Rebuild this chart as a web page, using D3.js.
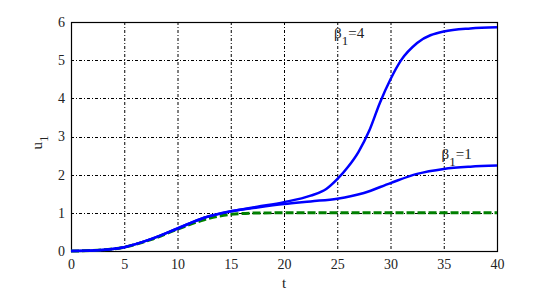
<!DOCTYPE html>
<html>
<head>
<meta charset="utf-8">
<script src="https://cdn.jsdelivr.net/npm/d3@7"></script>
<style>
    body { margin: 0; background: #fff; }
    text { font-family: "Liberation Serif", "Times New Roman", serif; fill: #222; }
</style>
</head>
<body>
<div id="chart"></div>
<script>
// values
let tBeta4 = [0, 2.5, 5, 7.5, 10, 12.5, 15, 17.5, 20, 22.5, 24, 25, 26, 27, 28, 29, 30, 31, 32.5, 35, 37.5, 40];
let uBeta4 = [0, 0.02, 0.1, 0.31, 0.59, 0.87, 1.04, 1.16, 1.28, 1.45, 1.63, 1.88, 2.2, 2.6, 3.15, 3.88, 4.5, 5.0, 5.45, 5.75, 5.83, 5.86];

let tBeta1 = [0, 2.5, 5, 7.5, 10, 12.5, 15, 17.5, 20, 22.5, 25, 27.5, 30, 32.5, 35, 37.5, 40];
let uBeta1 = [0, 0.02, 0.1, 0.31, 0.59, 0.87, 1.04, 1.14, 1.23, 1.3, 1.37, 1.52, 1.78, 2.02, 2.15, 2.21, 2.24];

let tRef = [0, 2.5, 5, 7.5, 10, 12.5, 15, 17.5, 20, 40];
let uRef = [0, 0.02, 0.1, 0.3, 0.57, 0.82, 0.96, 0.995, 1, 1];

let xTicks = [0, 5, 10, 15, 20, 25, 30, 35, 40];
let yTicks = [0, 1, 2, 3, 4, 5, 6];

let labels = [
    {name: "β", sub: "1", rest: "=4", t: 24.7, u: 5.58},
    {name: "β", sub: "1", rest: "=1", t: 34.8, u: 2.4}
];

let W = 549, H = 293;
let margin = {top: 22, right: 52, bottom: 42, left: 71};
let width = W - margin.left - margin.right;
let height = H - margin.top - margin.bottom;

let svg = d3.select("#chart")
    .append("svg")
    .attr("width", W)
    .attr("height", H)
    .append("g")
    .attr("transform", "translate(" + margin.left + "," + margin.top + ")");

let x = d3.scaleLinear().domain([0, 40]).range([0, width]);
let y = d3.scaleLinear().domain([0, 6]).range([height, 0]);

// grid
svg.append("g")
    .selectAll("line")
    .data(xTicks.slice(1, -1))
    .join("line")
    .attr("x1", d => x(d) + 0.5).attr("x2", d => x(d) + 0.5)
    .attr("y1", 0).attr("y2", height)
    .attr("stroke", "#000")
    .attr("stroke-width", 1)
    .attr("stroke-dasharray", "3,2,1,2");
svg.append("g")
    .selectAll("line")
    .data(yTicks.slice(1, -1))
    .join("line")
    .attr("y1", d => Math.round(y(d)) + 0.5).attr("y2", d => Math.round(y(d)) + 0.5)
    .attr("x1", 0).attr("x2", width)
    .attr("stroke", "#000")
    .attr("stroke-width", 1)
    .attr("stroke-dasharray", "3,2,1,2");

// axes
let xAxis = svg.append("g")
    .attr("transform", "translate(0," + height + ")")
    .call(d3.axisBottom(x).tickValues(xTicks).tickFormat(d3.format("d")).tickSize(0).tickPadding(8));
let yAxis = svg.append("g")
    .call(d3.axisLeft(y).tickValues(yTicks).tickFormat(d3.format("d")).tickSize(0).tickPadding(6));
[xAxis, yAxis].forEach(function (a) {
    a.attr("font-family", null).attr("font-size", 14);
    a.select(".domain").remove();
    a.selectAll("text")
        .attr("font-size", 14)
        .attr("fill", "#222");
});

// box
svg.append("rect")
    .attr("x", 0.5).attr("y", 0.5)
    .attr("width", width).attr("height", height)
    .attr("fill", "none")
    .attr("stroke", "#000")
    .attr("stroke-width", 1.2);

let line = d3.line()
    .curve(d3.curveMonotoneX)
    .x(d => x(d[0]))
    .y(d => y(d[1]));

svg.append("path")
    .datum(d3.zip(tRef, uRef))
    .attr("fill", "none")
    .attr("stroke", "#008000")
    .attr("stroke-width", 3)
    .attr("stroke-dasharray", "8,3")
    .attr("d", line);

[[tBeta1, uBeta1], [tBeta4, uBeta4]].forEach(function (s) {
    svg.append("path")
        .datum(d3.zip(s[0], s[1]))
        .attr("fill", "none")
        .attr("stroke", "#0000ff")
        .attr("stroke-width", 2.5)
        .attr("d", line);
});

// curve labels
labels.forEach(function (l) {
    let t = svg.append("text")
        .attr("x", x(l.t))
        .attr("y", y(l.u))
        .attr("font-size", 15);
    t.append("tspan").text(l.name);
    t.append("tspan").attr("dy", 7).attr("font-size", 13).text(l.sub);
    t.append("tspan").attr("dy", -7).text(l.rest);
});

// axis titles
svg.append("text")
    .attr("x", x(20))
    .attr("y", height + 37)
    .attr("text-anchor", "middle")
    .attr("font-size", 15)
    .text("t");

let yl = svg.append("text")
    .attr("transform", "translate(" + (42 - margin.left) + "," + (y(3) + 6) + ") rotate(-90)")
    .attr("text-anchor", "middle")
    .attr("font-size", 15);
yl.append("tspan").text("u");
yl.append("tspan").attr("dy", 6).attr("font-size", 13).text("1");
</script>
</body>
</html>
